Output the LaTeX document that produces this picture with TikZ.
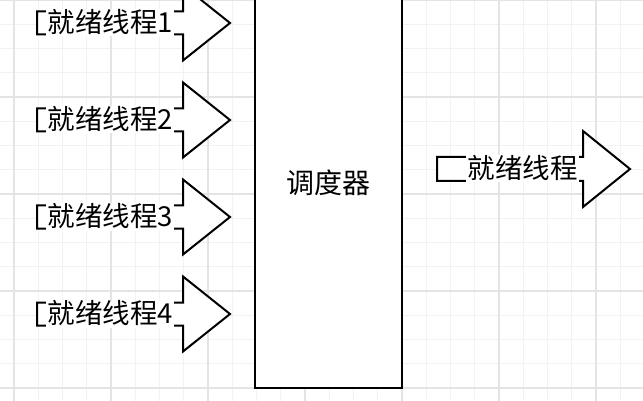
\documentclass[tikz,border=0pt]{standalone}
\usepackage{fontspec}
\newfontfamily\cjk{Noto Sans CJK SC}
\definecolor{gridminor}{RGB}{242,242,242}
\definecolor{gridmajor}{RGB}{228,228,228}
\tikzset{
  minorline/.style={draw=gridminor, line width=0.8pt},
  majorline/.style={draw=gridmajor, line width=1.2pt},
  arrowline/.style={draw=black, line width=2pt, line join=miter, fill=white},
  readylabel/.style={fill=white, inner xsep=1.5pt, inner ysep=1pt, text height=22pt, text depth=3pt, anchor=west, font=\cjk\fontsize{27.5}{27.5}\selectfont},
  schedbox/.style={draw=black, line width=2pt, fill=white, minimum width=147pt, minimum height=410pt, font=\cjk\fontsize{28}{28}\selectfont},
}

\begin{document}
\begin{tikzpicture}[x=1pt,y=-1pt]
  \useasboundingbox (0,0) rectangle (643,401);
  \clip (0,0) rectangle (643,401);
  \fill[white] (0,0) rectangle (643,401);
  % background grid
  \foreach \k in {0,...,25}
    \draw[minorline] ({14+24.25*\k},0) -- ({14+24.25*\k},401);
  \foreach \k in {0,...,16}
    \draw[minorline] (0,{24.25*\k}) -- (643,{24.25*\k});
  \foreach \k in {0,4,...,24}
    \draw[majorline] ({14+24.25*\k},0) -- ({14+24.25*\k},401);
  \foreach \k in {0,4,...,16}
    \draw[majorline] (0,{24.25*\k}) -- (643,{24.25*\k});

  % scheduler
  \node[schedbox] (sched) at (328.5,183) {调度器};

  % incoming ready threads
  \draw[arrowline] (37,11.5) -- (183,11.5) -- (183,-14.5) -- (230,23) -- (183,60.5) -- (183,34.5) -- (37,34.5) -- cycle;
  \draw[arrowline] (37,108.5) -- (183,108.5) -- (183,82.5) -- (230,120) -- (183,157.5) -- (183,131.5) -- (37,131.5) -- cycle;
  \draw[arrowline] (37,205.5) -- (183,205.5) -- (183,179.5) -- (230,217) -- (183,254.5) -- (183,228.5) -- (37,228.5) -- cycle;
  \draw[arrowline] (37,302.5) -- (183,302.5) -- (183,276.5) -- (230,314) -- (183,351.5) -- (183,325.5) -- (37,325.5) -- cycle;
  \node[readylabel] (in1) at (46,23) {就绪线程1};
  \node[readylabel] (in2) at (46,120) {就绪线程2};
  \node[readylabel] (in3) at (46,217) {就绪线程3};
  \node[readylabel] (in4) at (46,314) {就绪线程4};

  % outgoing ready thread
  \draw[arrowline] (437,157) -- (583,157) -- (583,131) -- (630,169) -- (583,207) -- (583,181) -- (437,181) -- cycle;
  \node[readylabel] (out) at (466,169) {就绪线程};
\end{tikzpicture}
\end{document}
